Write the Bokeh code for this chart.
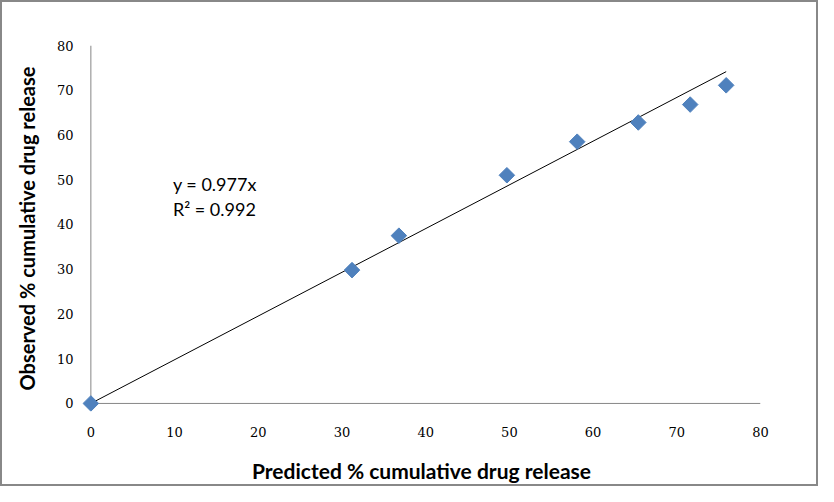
import math
from bokeh.plotting import figure
from bokeh.models import Range1d, SingleIntervalTicker, Label, ColumnDataSource
from bokeh.embed import file_html
from bokeh.resources import INLINE

# data
predicted = [0, 31.2, 36.8, 49.7, 58.1, 65.4, 71.6, 75.9]
observed = [0, 29.8, 37.5, 51.0, 58.5, 62.8, 66.8, 71.1]
slope = 0.977
r2 = 0.992
axis_max = 80
x_title = "Predicted % cumulative drug release"
y_title = "Observed % cumulative drug release"

p = figure(width=818, height=486, output_backend="svg", toolbar_location=None,
           x_range=Range1d(-1.0, axis_max), y_range=Range1d(-1.8, axis_max),
           min_border_left=80, min_border_right=60, min_border_top=43, min_border_bottom=77)
p.styles = {"border": "2px solid #888888", "box-sizing": "border-box"}
p.grid.visible = False
p.outline_line_color = None
p.background_fill_color = "white"
p.border_fill_color = "white"

for ax in (p.xaxis[0], p.yaxis[0]):
    ax.ticker = SingleIntervalTicker(interval=10)
    ax.axis_line_color = None
    ax.major_tick_line_color = None
    ax.minor_tick_line_color = None
    ax.major_label_text_font = "DejaVu Serif"
    ax.major_label_text_font_size = "13px"
    ax.major_label_text_color = "#000000"
    ax.axis_label_text_font = "Lato"
    ax.axis_label_text_font_style = "bold"
    ax.axis_label_text_color = "#000000"

p.xaxis[0].axis_label_text_font_size = "21px"
p.yaxis[0].axis_label_text_font_size = "20px"
p.xaxis[0].axis_label = x_title
p.yaxis[0].axis_label = y_title
p.xaxis[0].major_label_standoff = 9
p.yaxis[0].major_label_standoff = 3
p.xaxis[0].axis_label_standoff = 18
p.yaxis[0].axis_label_standoff = 15

# axis lines at zero
p.segment(x0=[0, 0], y0=[0, 0], x1=[axis_max, 0], y1=[0, axis_max],
          line_color="#868686", line_width=1)

# trend line
x_end = max(predicted)
p.line([0, x_end], [0, slope * x_end], line_color="black", line_width=1)

src = ColumnDataSource(dict(x=predicted, y=observed))
p.scatter("x", "y", source=src, marker="square", size=11, angle=math.pi / 4,
          fill_color="#4F81BD", line_color="#4F81BD")

p.add_layout(Label(x=9.8, y=49, text=f"y = {slope}x", text_font="Lato",
                   text_font_size="18px", text_baseline="middle", text_color="#000000"))
p.add_layout(Label(x=9.8, y=43.4, text=f"R\u00b2 = {r2}", text_font="Lato",
                   text_font_size="18px", text_baseline="middle", text_color="#000000"))

open("out.html", "w").write(file_html(p, INLINE))
